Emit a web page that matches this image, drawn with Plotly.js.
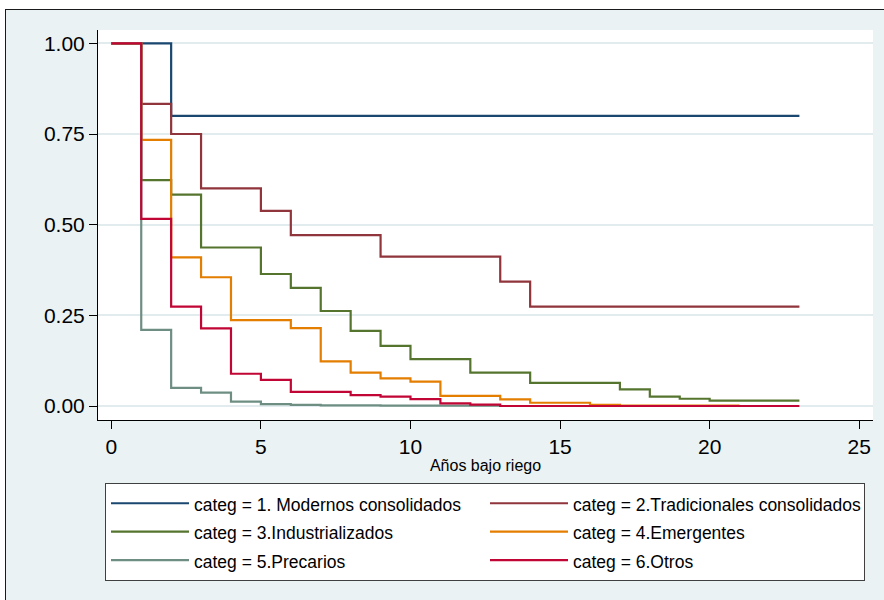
<!DOCTYPE html>
<html>
<head>
<meta charset="utf-8">
<script src="https://cdn.plot.ly/plotly-3.0.1.min.js"></script>
<style>
html, body { margin: 0; padding: 0; background: #ffffff; overflow: hidden; width: 884px; height: 600px; }
#chart { position: absolute; left: 5px; top: 9px; width: 884px; height: 600px;
  border-left: 1px solid #1a1a1a; border-top: 1px solid #1a1a1a; }
</style>
</head>
<body>
<div id="chart"></div>
<script>
// Kaplan-Meier style survival estimates (time in years under irrigation)
const seriesNames = [
  "categ = 1. Modernos consolidados",
  "categ = 2.Tradicionales consolidados",
  "categ = 3.Industrializados",
  "categ = 4.Emergentes",
  "categ = 5.Precarios",
  "categ = 6.Otros"
];
const t1 = [0, 2, 23];
const s1 = [1, 0.80, 0.80];
const t2 = [0, 1, 2, 3, 5, 6, 9, 13, 14, 23];
const s2 = [1, 0.833, 0.75, 0.60, 0.538, 0.471, 0.412, 0.343, 0.274, 0.274];
const t3 = [0, 1, 2, 3, 5, 6, 7, 8, 9, 10, 12, 14, 17, 18, 19, 20, 23];
const s3 = [1, 0.623, 0.583, 0.437, 0.364, 0.326, 0.262, 0.207, 0.166, 0.129, 0.092, 0.064, 0.046, 0.026, 0.020, 0.015, 0.015];
const t4 = [0, 1, 2, 3, 4, 6, 7, 8, 9, 10, 11, 13, 14, 16, 17, 21];
const s4 = [1, 0.734, 0.41, 0.355, 0.237, 0.215, 0.123, 0.092, 0.076, 0.067, 0.028, 0.018, 0.009, 0.003, 0.001, 0.001];
const t5 = [0, 1, 2, 3, 4, 5, 6, 7, 9, 13];
const s5 = [1, 0.21, 0.05, 0.037, 0.012, 0.005, 0.003, 0.002, 0.001, 0.001];
const t6 = [0, 1, 2, 3, 4, 5, 6, 8, 9, 10, 11, 12, 13, 23];
const s6 = [1, 0.516, 0.274, 0.214, 0.089, 0.072, 0.039, 0.030, 0.026, 0.019, 0.007, 0.004, 0.0, 0.0];
const xTicks = [0, 5, 10, 15, 20, 25];
const yTicks = [0, 0.25, 0.5, 0.75, 1];
const xTitle = "Años bajo riego";

const times = [t1, t2, t3, t4, t5, t6];
const survs = [s1, s2, s3, s4, s5, s6];
const colors = ["#1a476f", "#90353b", "#55752f", "#e37e00", "#6e8e84", "#c10534"];

const FONT = "Liberation Sans, Arial, Helvetica, sans-serif";

const traces = times.map((t, i) => ({
  type: "scatter",
  mode: "lines",
  x: t,
  y: survs[i],
  name: '<span style="font-size:17.5px">' + seriesNames[i] + '</span>',
  line: { shape: "hv", color: colors[i], width: 2.2 },
  hoverinfo: "x+y+name"
}));

const layout = {
  width: 884,
  height: 600,
  margin: { l: 91.7, r: 17.3, t: 20, b: 190, pad: 0, autoexpand: false },
  paper_bgcolor: "#eaf2f3",
  plot_bgcolor: "#ffffff",
  font: { family: FONT, color: "#000000", size: 17 },
  showlegend: true,
  xaxis: {
    range: [-0.445, 25.46],
    tickmode: "array",
    tickvals: xTicks,
    ticktext: xTicks.map(String),
    ticks: "outside",
    ticklen: 8,
    tickwidth: 1,
    tickcolor: "#000000",
    showline: true,
    linecolor: "#000000",
    linewidth: 1,
    showgrid: false,
    zeroline: false,
    automargin: false,
    tickfont: { family: FONT, size: 21, color: "#000000" },
    title: { text: xTitle, font: { family: FONT, size: 16, color: "#000000" }, standoff: 2 }
  },
  yaxis: {
    range: [-0.0386, 1.0368],
    tickmode: "array",
    tickvals: yTicks,
    ticktext: yTicks.map(v => v.toFixed(2)),
    ticks: "outside",
    ticklen: 8,
    tickwidth: 1,
    tickcolor: "#000000",
    showline: true,
    linecolor: "#000000",
    linewidth: 1,
    showgrid: true,
    gridcolor: "#e2ebee",
    gridwidth: 2,
    zeroline: false,
    automargin: false,
    tickfont: { family: FONT, size: 21, color: "#000000" }
  },
  legend: {
    orientation: "h",
    xref: "container",
    yref: "container",
    x: 99 / 884,
    xanchor: "left",
    y: 1 - 473 / 600,
    yanchor: "top",
    bgcolor: "#ffffff",
    bordercolor: "#404040",
    borderwidth: 1,
    font: { family: FONT, size: 19.6, color: "#000000" },
    entrywidth: 286,
    entrywidthmode: "pixels",
    itemwidth: 78,
    traceorder: "normal"
  }
};

Plotly.newPlot("chart", traces, layout, { staticPlot: true, displayModeBar: false });
</script>
</body>
</html>
